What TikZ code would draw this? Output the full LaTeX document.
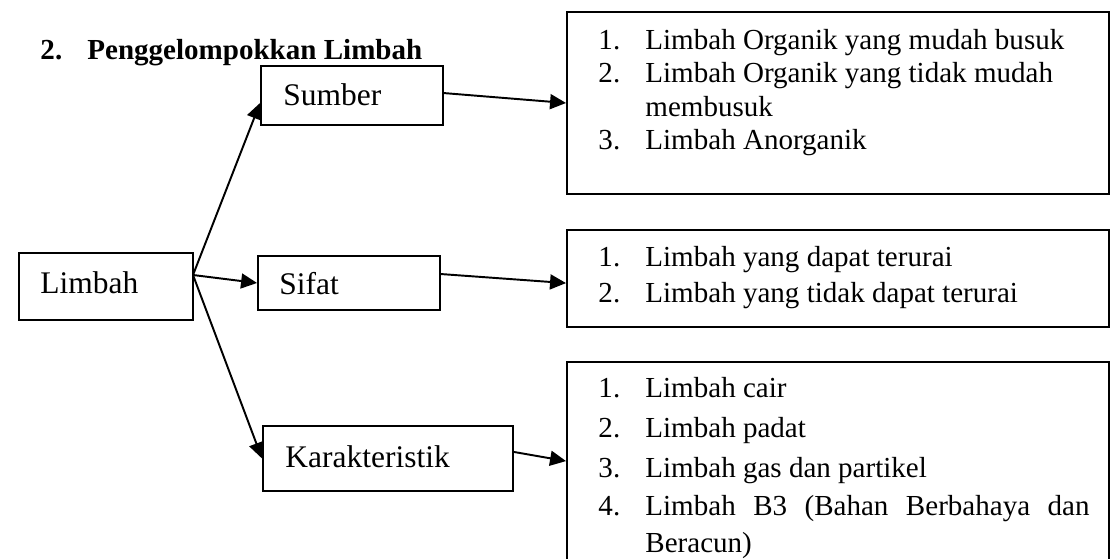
\documentclass[tikz,border=0pt]{standalone}
\usepackage{fontspec}
\setmainfont{Liberation Serif}
\usetikzlibrary{arrows.meta,fit}
\newcommand{\numbox}[1]{\makebox[19.4pt][l]{#1}}
\tikzset{
    box/.style={draw, line width=0.8pt, inner sep=0pt},
    lbl/.style={anchor=base west, inner sep=0pt, font=\fontsize{13pt}{15pt}\selectfont},
    item/.style={anchor=base west, inner sep=0pt, font=\fontsize{12pt}{14pt}\selectfont},
    arr/.style={line width=0.8pt, -{Triangle[length=6.6pt,width=6.2pt]}}
}

\begin{document}
\begin{tikzpicture}[x=0.4132pt, y=-0.4132pt]
        \useasboundingbox (0,0) rectangle (1116,559);
        \node[item, font=\fontsize{12pt}{14pt}\selectfont\bfseries] (judul) at (40,60) {\numbox{2.}Penggelompokkan Limbah};
        % kotak kiri
        \node[box, fit={(19,253) (193,320)}] (limbah) {};
        \node[lbl] (limbahtxt) at (40,294) {Limbah};
        \node[box, fit={(261,66) (443,125)}] (sumber) {};
        \node[lbl] (sumbertxt) at (283,106) {Sumber};
        \node[box, fit={(258,256) (440,310)}] (sifat) {};
        \node[lbl] (sifattxt) at (279,295) {Sifat};
        \node[box, fit={(263,426) (513,491)}] (karak) {};
        \node[lbl] (karaktxt) at (285,467) {Karakteristik};
        % kotak kanan
        \node[box, fit={(567,12) (1109,194)}] (isisumber) {};
        \node[box, fit={(567,230) (1109,327)}] (isisifat) {};
        \node[box, fit={(567,362) (1109,580)}] (isikarak) {};
        \foreach \n/\t/\y in {1./Limbah Organik yang mudah busuk/50, 2./Limbah Organik yang tidak mudah/83, /membusuk/117, 3./Limbah Anorganik/150}{
            \node[item] (baris-\y) at (598,\y) {\numbox{\n}\t};
        }
        \foreach \n/\t/\y in {1./Limbah yang dapat terurai/267, 2./Limbah yang tidak dapat terurai/302}{
            \node[item] (baris-\y) at (598,\y) {\numbox{\n}\t};
        }
        \foreach \n/\t/\y in {1./Limbah cair/398, 2./Limbah padat/437, 3./Limbah gas dan partikel/477, 4./{\makebox[183.5pt][s]{Limbah B3 (Bahan Berbahaya dan}}/515, /Beracun)/552}{
            \node[item] (baris-\y) at (598,\y) {\numbox{\n}\t};
        }
        % panah
        \coordinate (cabang) at (193,275);
        \draw[arr] (cabang) -- ([yshift=-3.1pt]sumber.west);
        \draw[arr] (cabang) -- (sifat.west);
        \draw[arr] (cabang) -- (karak.west);
        \draw[arr] ([yshift=1pt]sumber.east) -- (isisumber.west);
        \draw[arr] ([yshift=3.7pt]sifat.east) -- ([yshift=-1.9pt]isisifat.west);
        \draw[arr] ([yshift=2.7pt]karak.east) -- ([yshift=4.1pt]isikarak.west);
\end{tikzpicture}
\end{document}
